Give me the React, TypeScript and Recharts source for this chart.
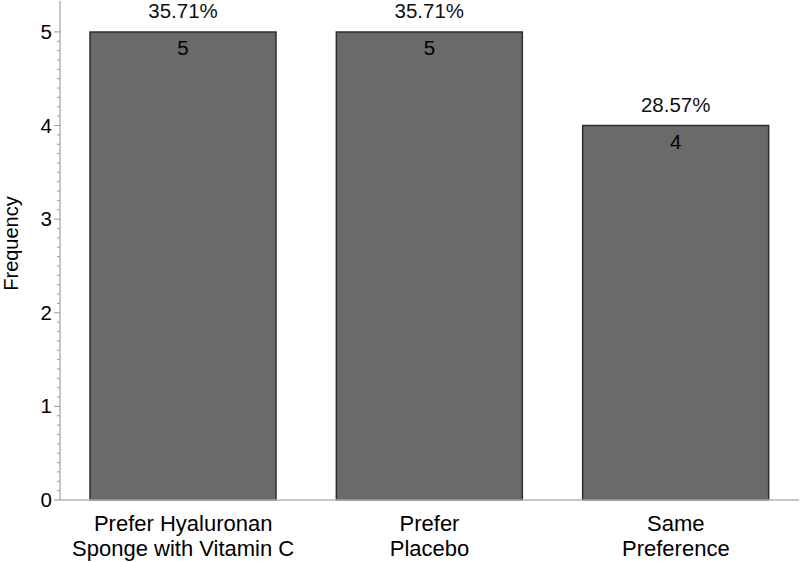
import React from 'react';
import { BarChart, Bar, XAxis, YAxis, LabelList } from 'recharts';

const categoryLines: string[][] = [
  ['Prefer Hyaluronan', 'Sponge with Vitamin C'],
  ['Prefer', 'Placebo'],
  ['Same', 'Preference'],
];
const categories = ['Prefer Hyaluronan Sponge with Vitamin C', 'Prefer Placebo', 'Same Preference'];
const frequencies = [5, 5, 4];
const percents = ['35.71%', '35.71%', '28.57%'];
const majorTicks = [0, 1, 2, 3, 4, 5];
const yMax = 5.33;

const minorTicks: number[] = [];
for (let i = 0; i <= 50; i++) minorTicks.push(Math.round(i) / 10);

const data = categories.map((c, i) => ({ name: c, freq: frequencies[i], pct: percents[i], idx: i }));

const FONT = '"Liberation Sans", Arial, sans-serif';

const YTick = (props: any) => {
  const { x, y, payload } = props;
  const v = payload.value;
  const isMajor = majorTicks.some((m) => Math.abs(m - v) < 1e-6);
  return (
    <g>
      <line x1={x - (isMajor ? 6 : 3)} x2={x} y1={y} y2={y} stroke="#9a9a9a" strokeWidth={1} />
      {isMajor && (
        <text x={x - 8} y={y + 7} textAnchor="end" fontSize={20.5} fontFamily={FONT} fill="#000">
          {Math.round(v)}
        </text>
      )}
    </g>
  );
};

const XTick = (props: any) => {
  const { x, y, index } = props;
  const lines = categoryLines[index] || [];
  return (
    <g>
      {lines.map((l, i) => (
        <text key={i} x={x} y={y + 31 + i * 25} textAnchor="middle" fontSize={22} fontFamily={FONT} fill="#000">
          {l}
        </text>
      ))}
    </g>
  );
};

const YLabel = (props: any) => {
  const vb = props.viewBox || { x: 0, y: 0, width: 60, height: 500 };
  const x = vb.x + 18;
  const y = vb.y + vb.height / 2 - 7;
  return (
    <text x={x} y={y} transform={`rotate(-90 ${x} ${y})`} textAnchor="middle" fontSize={20} fontFamily={FONT} fill="#000">
      Frequency
    </text>
  );
};

export default function App() {
  return (
    <div style={{ position: 'absolute', left: 0, top: 0, width: 800, height: 562, background: '#fff' }}>
      <BarChart width={800} height={562} data={data} margin={{ top: 1, right: 1, left: 0, bottom: 0 }}>
        <XAxis
          dataKey="name"
          height={62}
          tickSize={0}
          tickMargin={0}
          tickLine={false}
          axisLine={{ stroke: '#b5b5b5', strokeWidth: 1.5 }}
          tick={<XTick />}
          interval={0}
        />
        <XAxis xAxisId="top" orientation="top" dataKey="name" height={0} tick={false} tickLine={false} axisLine={{ stroke: '#c0c0c0', strokeWidth: 1.5 }} />
        <YAxis
          width={60}
          domain={[0, yMax]}
          ticks={minorTicks}
          interval={0}
          tickSize={0}
          tickMargin={0}
          tickLine={false}
          axisLine={{ stroke: '#b5b5b5', strokeWidth: 1.5 }}
          tick={<YTick />}
          label={<YLabel />}
        />
        <YAxis yAxisId="right" orientation="right" width={0} domain={[0, yMax]} tick={false} tickLine={false} axisLine={{ stroke: '#c0c0c0', strokeWidth: 1.5 }} />
        <Bar dataKey="freq" fill="#6a6a6a" stroke="#2e2e2e" strokeWidth={1.5} barSize={186} isAnimationActive={false}>
          <LabelList dataKey="pct" position="top" offset={14} fontSize={20.5} fontFamily={FONT} fill="#111" />
          <LabelList dataKey="freq" position="insideTop" offset={9} fontSize={20.5} fontFamily={FONT} fill="#000" />
        </Bar>
      </BarChart>
    </div>
  );
}
